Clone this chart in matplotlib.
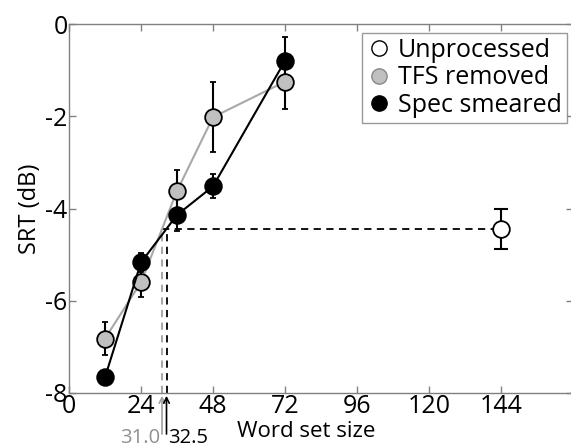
import numpy as np
import matplotlib
matplotlib.use("Agg")
import matplotlib.pyplot as plt

plt.rcParams['font.family'] = ['Open Sans', 'DejaVu Sans']

# Daten
set_size = [12, 24, 36, 48, 72]
tfs_srt = [-6.82, -5.60, -3.62, -2.02, -1.25]
tfs_err = [0.36, 0.32, 0.45, 0.76, 0.60]
spec_srt = [-7.66, -5.17, -4.14, -3.52, -0.80]
spec_err = [0.12, 0.20, 0.34, 0.26, 0.51]
unproc_size = [144]
unproc_srt = [-4.44]
unproc_err = [0.44]
cross_tfs = 31.0
cross_spec = 32.5
xticks = [0, 24, 48, 72, 96, 120, 144]
yticks = [0, -2, -4, -6, -8]

fig = plt.figure(figsize=(5.71, 4.46), dpi=100)
ax = fig.add_axes([69 / 571, 53 / 446, 504 / 571, 369 / 446])

# linee tratteggiate di riferimento
lvl = unproc_srt[0]
ax.plot([cross_tfs, unproc_size[0]], [lvl, lvl], 'k--', lw=1.3, dashes=(4, 3), zorder=1)
ax.plot([cross_tfs, cross_tfs], [-8, lvl], '--', color='#a0a0a0', lw=1.3, dashes=(4, 3), zorder=1)
ax.plot([cross_spec, cross_spec], [-8, lvl], 'k--', lw=1.3, dashes=(4, 3), zorder=1)

ms = 12
ax.errorbar(set_size, tfs_srt, yerr=tfs_err, fmt='none', ecolor='black',
            elinewidth=1.5, capsize=2.5, capthick=1.3, zorder=2)
ax.errorbar(set_size, spec_srt, yerr=spec_err, fmt='none', ecolor='black',
            elinewidth=1.5, capsize=2.5, capthick=1.3, zorder=2)
ax.errorbar(unproc_size, unproc_srt, yerr=unproc_err, fmt='none', ecolor='black',
            elinewidth=1.5, capsize=5, capthick=1.5, zorder=2)

ax.plot(set_size, tfs_srt, '-o', color='#a8a8a8', lw=1.5, mfc='#c0c0c0',
        mec='black', mew=1.3, ms=ms, zorder=3)
ax.plot(set_size, spec_srt, '-o', color='black', lw=1.5, mfc='black',
        mec='black', mew=1.3, ms=ms, zorder=4)
ax.plot(unproc_size, unproc_srt, 'o', mfc='white', mec='black', mew=1.3,
        ms=ms, zorder=4)

# legenda con soli marker
h1, = ax.plot([], [], 'o', mfc='white', mec='black', mew=1.0, ms=11)
h2, = ax.plot([], [], 'o', mfc='#c0c0c0', mec='#888888', mew=1.0, ms=11)
h3, = ax.plot([], [], 'o', mfc='black', mec='black', mew=1.0, ms=11)
leg = ax.legend([h1, h2, h3], ['Unprocessed', 'TFS removed', 'Spec smeared'],
                loc='upper right', bbox_to_anchor=(0.988, 0.976), fontsize=18,
                frameon=True, fancybox=False, borderpad=0.2, labelspacing=0.1,
                handletextpad=0.25, handlelength=1.0, borderaxespad=0.0)
leg.get_frame().set_edgecolor('#808080')
leg.get_frame().set_linewidth(1.0)

ax.set_xlim(0, 168)
ax.set_ylim(-8, 0)
ax.set_xticks(xticks)
ax.set_yticks(yticks)
ax.set_xticklabels([str(t) for t in xticks])
ax.set_yticklabels([str(t) for t in yticks])
ax.tick_params(direction='in', length=5, width=1, color='#808080',
               labelsize=18, top=True, right=True, pad=1)
for s in ax.spines.values():
    s.set_color('#808080')
    s.set_linewidth(1.0)

ax.set_ylabel('SRT (dB)', fontsize=17, labelpad=2)
ax.set_xlabel('Word set size', fontsize=16)
ax.xaxis.set_label_coords(0.47, -0.075)

# frecce sotto l'asse
ax.annotate('', xy=(cross_tfs, -8), xycoords='data',
            xytext=(cross_tfs, -8.95), textcoords='data',
            arrowprops=dict(arrowstyle='->', color='#a0a0a0', lw=1.2),
            annotation_clip=False)
ax.annotate('', xy=(cross_spec, -8), xycoords='data',
            xytext=(cross_spec, -8.95), textcoords='data',
            arrowprops=dict(arrowstyle='->', color='black', lw=1.2),
            annotation_clip=False)
ax.text(cross_tfs - 0.5, -8.98, '31.0', color='#909090', fontsize=14.5,
        ha='right', va='center', clip_on=False)
ax.text(cross_spec + 0.5, -8.98, '32.5', color='black', fontsize=14.5,
        ha='left', va='center', clip_on=False)

fig.savefig('out.png', dpi=100)
